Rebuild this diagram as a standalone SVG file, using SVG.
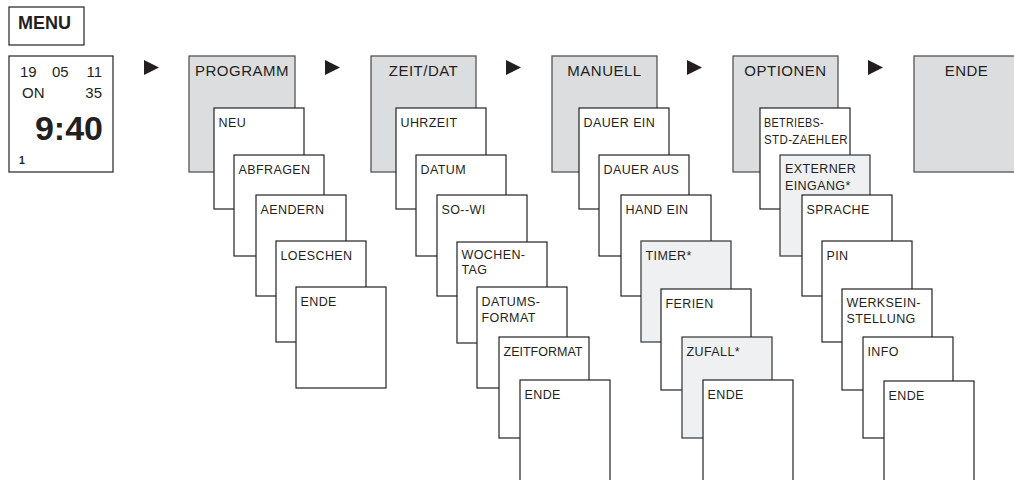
<svg xmlns="http://www.w3.org/2000/svg" width="1014" height="480" viewBox="0 0 1014 480">
<style>
.bg{fill:#ffffff}
.hd{fill:#dcdddf;stroke:#555555;stroke-width:1.3}
.it{fill:#ffffff;stroke:#222222;stroke-width:1.2}
.lt{fill:#eff0f2;stroke:#333333;stroke-width:1.2}
.frame{fill:#ffffff;stroke:#333333;stroke-width:1.3}
text{font-family:"Liberation Sans",Arial,sans-serif;fill:#231f20}
.ht{font-size:15px;letter-spacing:0.5px;text-anchor:middle}
.tx{font-size:12.5px;letter-spacing:0.4px}
.arr{fill:#231f20}
</style>
<rect class="bg" x="0" y="0" width="1014" height="480"/>

<g id="menu">
<rect class="frame" x="9" y="7" width="75" height="38"/>
<text x="18" y="29" style="font-size:18px;font-weight:bold">MENU</text>
</g>

<g id="display">
<rect class="frame" x="9" y="56" width="104" height="116"/>
<text x="20" y="77" style="font-size:15px">19</text>
<text x="52" y="77" style="font-size:15px">05</text>
<text x="102" y="77" style="font-size:15px;text-anchor:end">11</text>
<text x="22" y="98" style="font-size:15px">ON</text>
<text x="102" y="98" style="font-size:15px;text-anchor:end">35</text>
<text x="103" y="140" style="font-size:34px;font-weight:bold;text-anchor:end">9:40</text>
<text x="19" y="164" style="font-size:10.5px;font-weight:bold">1</text>
</g>

<g id="connectors">
<polygon class="arr" points="144,60 159,67.5 144,75"/>
<polygon class="arr" points="325,60 340,67.5 325,75"/>
<polygon class="arr" points="506,60 521,67.5 506,75"/>
<polygon class="arr" points="687,60 702,67.5 687,75"/>
<polygon class="arr" points="868,60 883,67.5 868,75"/>
</g>

<!-- Column PROGRAMM -->
<g id="programm"><rect class="hd" x="189" y="56" width="106" height="116"/><text class="ht" x="242" y="76">PROGRAMM</text></g>
<g id="p-neu"><rect class="it" x="214" y="108" width="90" height="101"/><text class="tx" x="218.5" y="127">NEU</text></g>
<g id="p-abfragen"><rect class="it" x="234" y="155" width="90" height="101"/><text class="tx" x="238.5" y="174">ABFRAGEN</text></g>
<g id="p-aendern"><rect class="it" x="256" y="195" width="90" height="101"/><text class="tx" x="260.5" y="214">AENDERN</text></g>
<g id="p-loeschen"><rect class="it" x="276" y="241" width="90" height="101"/><text class="tx" x="280.5" y="260">LOESCHEN</text></g>
<g id="p-ende"><rect class="it" x="296" y="287" width="90" height="101"/><text class="tx" x="300.5" y="306">ENDE</text></g>

<!-- Column ZEIT/DAT -->
<g id="zeitdat"><rect class="hd" x="371" y="56" width="105" height="116"/><text class="ht" x="423.5" y="76">ZEIT/DAT</text></g>
<g id="z-uhrzeit"><rect class="it" x="396" y="108" width="90" height="101"/><text class="tx" x="400.5" y="127">UHRZEIT</text></g>
<g id="z-datum"><rect class="it" x="416" y="155" width="90" height="101"/><text class="tx" x="420.5" y="174">DATUM</text></g>
<g id="z-sowi"><rect class="it" x="437" y="195" width="90" height="101"/><text class="tx" x="441.5" y="214">SO--WI</text></g>
<g id="z-wochentag"><rect class="it" x="457" y="242" width="90" height="101"/><text class="tx" x="461.5" y="259">WOCHEN-</text><text class="tx" x="461.5" y="274">TAG</text></g>
<g id="z-datumsformat"><rect class="it" x="477" y="287" width="90" height="101"/><text class="tx" x="481.5" y="306">DATUMS-</text><text class="tx" x="481.5" y="322">FORMAT</text></g>
<g id="z-zeitformat"><rect class="it" x="499" y="337" width="90" height="101"/><text class="tx" x="503.5" y="356" style="letter-spacing:0px">ZEITFORMAT</text></g>
<g id="z-ende"><rect class="it" x="520" y="380" width="90" height="110"/><text class="tx" x="524.5" y="399">ENDE</text></g>

<!-- Column MANUELL -->
<g id="manuell"><rect class="hd" x="552" y="56" width="105" height="116"/><text class="ht" x="604.5" y="76">MANUELL</text></g>
<g id="m-dauerein"><rect class="it" x="579" y="108" width="90" height="101"/><text class="tx" x="583.5" y="127">DAUER EIN</text></g>
<g id="m-daueraus"><rect class="it" x="599" y="155" width="90" height="101"/><text class="tx" x="603.5" y="174">DAUER AUS</text></g>
<g id="m-handein"><rect class="it" x="621" y="195" width="90" height="101"/><text class="tx" x="625.5" y="214">HAND EIN</text></g>
<g id="m-timer"><rect class="lt" x="641" y="241" width="90" height="101"/><text class="tx" x="645.5" y="260">TIMER*</text></g>
<g id="m-ferien"><rect class="it" x="661" y="289" width="90" height="101"/><text class="tx" x="665.5" y="308">FERIEN</text></g>
<g id="m-zufall"><rect class="lt" x="682" y="337" width="90" height="101"/><text class="tx" x="686.5" y="356">ZUFALL*</text></g>
<g id="m-ende"><rect class="it" x="703" y="380" width="90" height="110"/><text class="tx" x="707.5" y="399">ENDE</text></g>

<!-- Column OPTIONEN -->
<g id="optionen"><rect class="hd" x="733" y="56" width="105" height="116"/><text class="ht" x="785.5" y="76">OPTIONEN</text></g>
<g id="o-betriebs"><rect class="it" x="760" y="108" width="90" height="101"/><text class="tx" x="764" y="127" textLength="60" lengthAdjust="spacingAndGlyphs">BETRIEBS-</text><text class="tx" x="764" y="144" textLength="84" lengthAdjust="spacingAndGlyphs">STD-ZAEHLER</text></g>
<g id="o-extern"><rect class="lt" x="780" y="155" width="90" height="101"/><text class="tx" x="785" y="173">EXTERNER</text><text class="tx" x="785" y="190">EINGANG*</text></g>
<g id="o-sprache"><rect class="it" x="802" y="195" width="90" height="101"/><text class="tx" x="806.5" y="214">SPRACHE</text></g>
<g id="o-pin"><rect class="it" x="822" y="241" width="90" height="101"/><text class="tx" x="826.5" y="260">PIN</text></g>
<g id="o-werks"><rect class="it" x="842" y="289" width="90" height="101"/><text class="tx" x="846.5" y="307">WERKSEIN-</text><text class="tx" x="846.5" y="323">STELLUNG</text></g>
<g id="o-info"><rect class="it" x="863" y="337" width="90" height="101"/><text class="tx" x="867.5" y="356">INFO</text></g>
<g id="o-ende"><rect class="it" x="884" y="381" width="90" height="110"/><text class="tx" x="888.5" y="400">ENDE</text></g>

<!-- Column ENDE -->
<g id="ende"><rect class="hd" x="914" y="56" width="110" height="116"/><text class="ht" x="966.5" y="76">ENDE</text></g>
</svg>
